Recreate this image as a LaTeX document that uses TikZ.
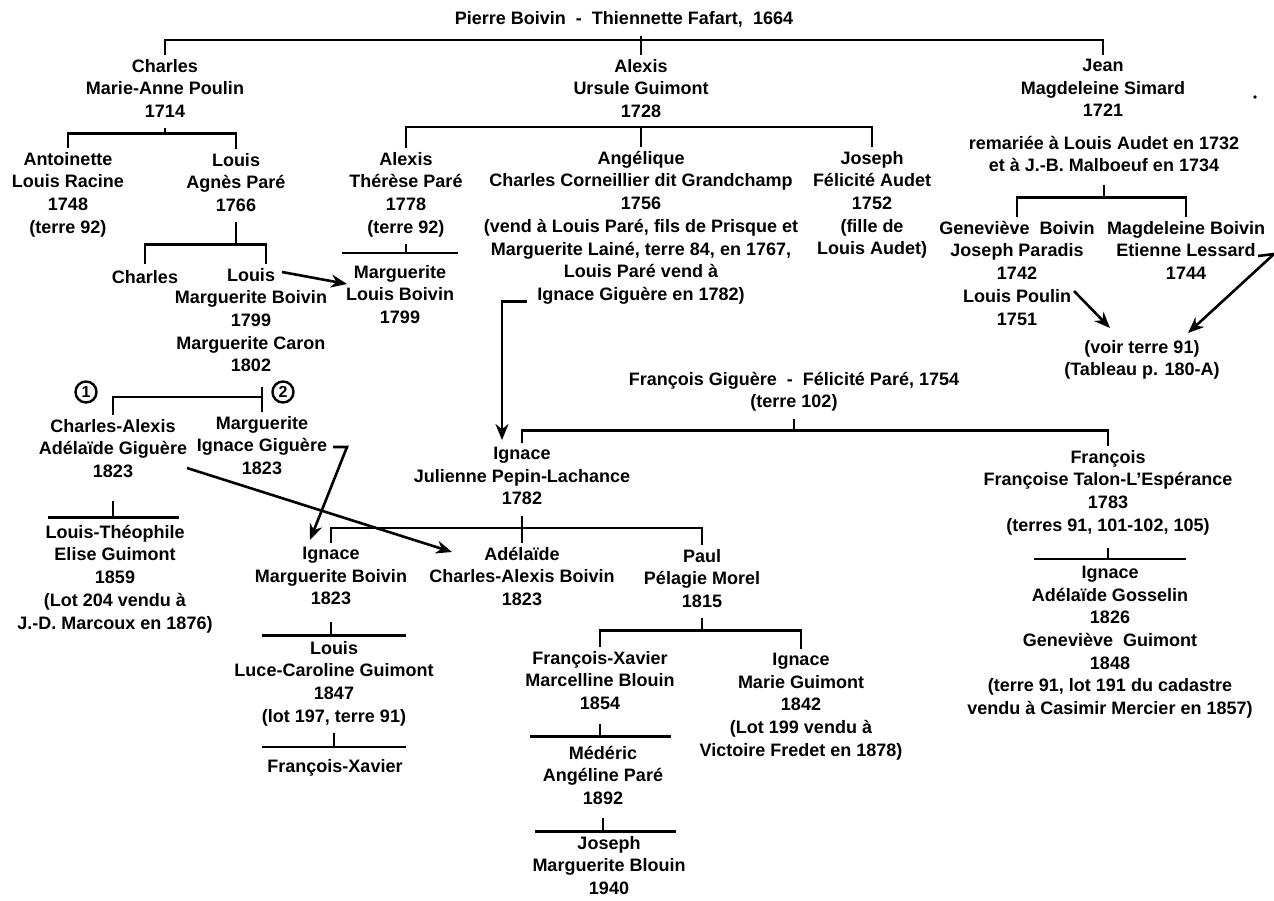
\documentclass[tikz,border=0pt]{standalone}
\usepackage{fontspec}
\setmainfont{Liberation Sans}
\usepackage{tikz}
\usetikzlibrary{arrows.meta,shapes}
\usepackage{xcolor}
\definecolor{ink}{RGB}{0,0,0}
\tikzstyle{person} = [align=center, inner sep=0pt, outer sep=2pt, anchor=north, text=ink, font=\bfseries\fontsize{9}{11.35}\selectfont, execute at begin node=\strut]
\tikzstyle{numcirc} = [circle, draw=ink, line width=1.2pt, inner sep=0pt, minimum size=10.5pt, font=\bfseries\fontsize{8}{9}\selectfont]
\tikzstyle{treeline} = [line width=1.4pt, color=ink]
\tikzstyle{arrow} = [line width=1.3pt, ->, >={Stealth[length=8pt,width=6.5pt]}, color=ink]

\begin{document}
\begin{tikzpicture}[x=0.5pt, y=-0.5pt]
\useasboundingbox (0,0) rectangle (1274,900);

% First couple and their sons
\node (title) [person] at (624,5) {Pierre Boivin\ \ -\ \ Thiennette Fafart,\ \ 1664};
\node (charles) [person] at (165,55) {Charles\\Marie-Anne Poulin\\1714};
\node (alexis) [person] at (641,55) {Alexis\\Ursule Guimont\\1728};
\node (jean) [person] at (1103,55) {Jean\\Magdeleine Simard\\1721};
\node (remarie) [person] at (1104,132) {remariée à Louis Audet en 1732\\et à J.-B. Malboeuf en 1734};
\fill[ink] (1255,97) circle (1.8);

% Charles
\node (antoinette) [person] at (68,148) {Antoinette\\Louis Racine\\1748\\(terre 92)};
\node (louisa) [person] at (236,149) {Louis\\Agnès Paré\\1766};
\node (charlesb) [person] at (145,264) {Charles};
\node (louisb) [person] at (251,264) {Louis\\Marguerite Boivin\\1799\\Marguerite Caron\\1802};

% Alexis
\node (alexisb) [person] at (406,148) {Alexis\\Thérèse Paré\\1778\\(terre 92)};
\node (angelique) [person] at (641,147) {Angélique\\Charles Corneillier dit Grandchamp\\1756\\(vend à Louis Paré, fils de Prisque et\\Marguerite Lainé, terre 84, en 1767,\\Louis Paré vend à\\Ignace Giguère en 1782)};
\node (joseph) [person] at (872,147) {Joseph\\Félicité Audet\\1752\\(fille de\\Louis Audet)};
\node (margueriteb) [person] at (400,261) {Marguerite\\Louis Boivin\\1799};

% Jean
\node (genevieve) [person] at (1017,217) {Geneviève\ \ Boivin\\Joseph Paradis\\1742\\Louis Poulin\\1751};
\node (magdeleine) [person] at (1186,217) {Magdeleine Boivin\\Etienne Lessard\\1744};
\node (voir) [person] at (1142,336) {(voir terre 91)\\(Tableau p. 180-A)};

% Louis, two marriages
\node (chalexis) [person] at (113,415) {Charles-Alexis\\Adélaïde Giguère\\1823};
\node (margueritec) [person] at (262,412) {Marguerite\\Ignace Giguère\\1823};
\node (first) [numcirc] at (86,392) {1};
\node (second) [numcirc] at (283,392) {2};
\node (louistheo) [person] at (115,521) {Louis-Théophile\\Elise Guimont\\1859\\(Lot 204 vendu à\\J.-D. Marcoux en 1876)};

% François Giguère
\node (francoisg) [person] at (794,368) {François Giguère\ \ -\ \ Félicité Paré, 1754\\(terre 102)};
\node (ignacej) [person] at (522,443) {Ignace\\Julienne Pepin-Lachance\\1782};
\node (francoist) [person] at (1108,446) {François\\Françoise Talon-L'Espérance\\1783\\(terres 91, 101-102, 105)};
\node (ignaceg) [person] at (1110,562) {Ignace\\Adélaïde Gosselin\\1826\\Geneviève\ \ Guimont\\1848\\(terre 91, lot 191 du cadastre\\vendu à Casimir Mercier en 1857)};

% Ignace and Julienne's children
\node (ignacem) [person] at (331,543) {Ignace\\Marguerite Boivin\\1823};
\node (adelaide) [person] at (522,543) {Adélaïde\\Charles-Alexis Boivin\\1823};
\node (paul) [person] at (702,545) {Paul\\Pélagie Morel\\1815};
\node (louisl) [person] at (334,637) {Louis\\Luce-Caroline Guimont\\1847\\(lot 197, terre 91)};
\node (fxavier) [person] at (335,753) {François-Xavier};
\node (fxm) [person] at (600,647) {François-Xavier\\Marcelline Blouin\\1854};
\node (ignacemg) [person] at (801,649) {Ignace\\Marie Guimont\\1842\\(Lot 199 vendu à\\Victoire Fredet en 1878)};
\node (mederic) [person] at (603,742) {Médéric\\Angéline Paré\\1892};
\node (josephm) [person] at (609,832) {Joseph\\Marguerite Blouin\\1940};

% Descent lines
\draw[treeline] (alexis.north |- title.south) -- (alexis.north);
\draw[treeline] (charles.north) -- ++(0,-15) -| (jean.north);
\draw[treeline] (charles.south) -- ++(0,5) -| (antoinette.north) (charles.south) ++(0,5) -| (louisa.north);
\draw[treeline] (alexis.south) -- (angelique.north);
\draw[treeline] (alexisb.north) -- ++(0,-21) -| (joseph.north);
\draw[treeline] (louisa.south) -- ++(0,22) -| (charlesb.north) (louisa.south) ++(0,22) -| ([shift={(15,0)}]louisb.north);
\draw[treeline] (alexisb.south) -- ++(0,9) ++(-64,0) -- ++(116,0);
\draw[treeline] (remarie.south) ++(0,2) -- ++(0,13) -| (genevieve.north) (remarie.south) ++(0,15) -| (magdeleine.north);
\draw[treeline] (chalexis.north) -- ++(0,-18) -| (margueritec.north) -- ++(0,-25);
\draw[treeline] (chalexis.south) ++(0,13) -- ++(0,16) ++(-65,0) -- ++(131,0);
\draw[treeline] (francoisg.south) -- ++(0,12) -| (ignacej.north) (francoisg.south) ++(0,12) -| (francoist.north);
\draw[treeline] (ignacej.south) -- (adelaide.north);
\draw[treeline] (ignacem.north) -- ++(0,-15) -| (paul.north);
\draw[treeline] (ignacem.south) ++(0,6) -- ++(0,14) ++(-69,0) -- ++(144,0);
\draw[treeline] (louisl.south) -- ++(0,14) ++(-72,0) -- ++(144,0);
\draw[treeline] (paul.south) -- ++(0,12) -| (fxm.north) (paul.south) ++(0,12) -| (ignacemg.north);
\draw[treeline] (fxm.south) ++(0,4) -- ++(0,12) ++(-70,0) -- ++(141,0);
\draw[treeline] (mederic.south) ++(0,3) -- ++(0,13) ++(-68,0) -- ++(141,0);
\draw[treeline] (francoist.south) ++(0,6) -- ++(0,11) ++(-74,0) -- ++(152,0);

% Arrows
\draw[arrow] ([shift={(31,8)}]louisb.north) -- ([shift={(-53,23)}]margueriteb.north);
\draw[arrow] ([shift={(-114,-10)}]angelique.south) -| ([shift={(-20,-3)}]ignacej.north);
\draw[arrow] ([shift={(57,74)}]genevieve.north) -- ([shift={(-32,-8)}]voir.north);
\draw[arrow] ([shift={(72,39)}]magdeleine.north) -- ++(16,-2) -- ([shift={(46,-3)}]voir.north);
\draw[arrow] ([shift={(74,53)}]chalexis.north) -- ([shift={(-70,9)}]adelaide.north);
\draw[arrow] ([shift={(71,35)}]margueritec.north) -- ++(14,0) -- ([shift={(-21,-3)}]ignacem.north);
\end{tikzpicture}
\end{document}
